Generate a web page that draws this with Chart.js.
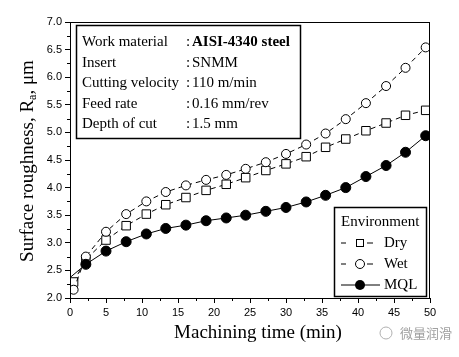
<!DOCTYPE html>
<html><head><meta charset="utf-8">
<script src="https://cdn.jsdelivr.net/npm/chart.js@4/dist/chart.umd.min.js"></script>
<style>html,body{margin:0;padding:0;background:#fff;}canvas{display:block;}</style>
</head><body>
<canvas id="c" width="459" height="357"></canvas>
<script>
const timeX = [0.5, 2.2, 5, 7.8, 10.6, 13.3, 16.1, 18.9, 21.7, 24.4, 27.2, 30, 32.8, 35.5, 38.3, 41.1, 43.9, 46.6, 49.4];
const dryY = [2.29, 2.70, 3.05, 3.31, 3.52, 3.69, 3.82, 3.95, 4.06, 4.18, 4.31, 4.43, 4.56, 4.73, 4.88, 5.03, 5.17, 5.31, 5.40];
const wetY = [2.15, 2.75, 3.20, 3.52, 3.75, 3.92, 4.04, 4.14, 4.23, 4.34, 4.46, 4.61, 4.78, 4.98, 5.24, 5.53, 5.84, 6.17, 6.54];
const mqlX = [0, 2.2, 5, 7.8, 10.6, 13.3, 16.1, 18.9, 21.7, 24.4, 27.2, 30, 32.8, 35.5, 38.3, 41.1, 43.9, 46.6, 49.4];
const mqlY = [2.37, 2.61, 2.85, 3.02, 3.16, 3.26, 3.32, 3.40, 3.45, 3.50, 3.57, 3.64, 3.74, 3.86, 4.00, 4.20, 4.40, 4.64, 4.94];
const infoLabels = ["Work material", "Insert", "Cutting velocity", "Feed rate", "Depth of cut"];
const infoValues = ["AISI-4340 steel", "SNMM", "110 m/min", "0.16 mm/rev", "1.5 mm"];
const legendTitle = "Environment";
const seriesNames = ["Dry", "Wet", "MQL"];
const xTitle = "Machining time (min)";

const pts = (xs, ys) => xs.map((x, i) => ({x, y: ys[i]}));
const SERIF = '"Liberation Serif", "Times New Roman", serif';
const SANS = '"Liberation Sans", Arial, sans-serif';

const extras = {
  id: 'extras',
  afterDraw(chart) {
    const ctx = chart.ctx, a = chart.chartArea;
    const xs = chart.scales.x, ys = chart.scales.y;
    ctx.save();
    ctx.strokeStyle = '#000'; ctx.lineWidth = 1;
    ctx.strokeRect(a.left + 0.5, a.top + 0.5, a.right - a.left - 1, a.bottom - a.top);
    ctx.beginPath();
    for (let v = 2.25; v < 7; v += 0.5) {
      const p = Math.round(ys.getPixelForValue(v)) + 0.5;
      ctx.moveTo(a.left, p); ctx.lineTo(a.left - 3, p);
    }
    for (let v = 2.5; v < 50; v += 5) {
      const p = Math.round(xs.getPixelForValue(v)) + 0.5;
      ctx.moveTo(p, a.bottom); ctx.lineTo(p, a.bottom + 3);
    }
    ctx.stroke();
    // info box
    ctx.lineWidth = 1.5;
    ctx.strokeRect(76.5, 25.5, 224, 113);
    ctx.fillStyle = '#000';
    ctx.textBaseline = 'middle';
    infoLabels.forEach((t, i) => {
      const y = 42 + i * 20.6;
      ctx.font = '15px ' + SERIF;
      ctx.textAlign = 'left';
      ctx.fillText(t, 82, y);
      ctx.fillText(':', 186, y);
      ctx.font = (i === 0 ? 'bold ' : '') + '15px ' + SERIF;
      ctx.fillText(infoValues[i], 192, y);
    });
    // legend box
    ctx.lineWidth = 1.5;
    ctx.strokeRect(334.5, 207.5, 92, 89);
    ctx.font = '15px ' + SERIF;
    ctx.fillText(legendTitle, 341, 222);
    const rows = [243, 264, 285];
    ctx.lineWidth = 1;
    ctx.beginPath();
    ctx.moveTo(341, rows[0]); ctx.lineTo(346, rows[0]);
    ctx.moveTo(367, rows[0]); ctx.lineTo(373, rows[0]);
    ctx.moveTo(341, rows[1]); ctx.lineTo(346, rows[1]);
    ctx.moveTo(367, rows[1]); ctx.lineTo(373, rows[1]);
    ctx.moveTo(341, rows[2]); ctx.lineTo(380, rows[2]);
    ctx.stroke();
    ctx.fillStyle = '#fff';
    ctx.fillRect(356, rows[0] - 4, 8, 8);
    ctx.strokeRect(356.5, rows[0] - 3.5, 7, 7);
    ctx.beginPath(); ctx.arc(360, rows[1], 4.5, 0, Math.PI * 2); ctx.fill(); ctx.stroke();
    ctx.fillStyle = '#000';
    ctx.beginPath(); ctx.arc(360, rows[2], 5, 0, Math.PI * 2); ctx.fill();
    ctx.font = '15px ' + SERIF;
    seriesNames.forEach((n, i) => ctx.fillText(n, 384, rows[i]));
    // x title
    ctx.font = '19px ' + SERIF;
    ctx.textAlign = 'center';
    ctx.fillText(xTitle, 258, 333);
    // y title with subscript
    ctx.translate(28, 161);
    ctx.rotate(-Math.PI / 2);
    const p1 = 'Surface roughness, R', sub = 'a', p2 = ', \u03bcm';
    ctx.font = '19px ' + SERIF;
    const w1 = ctx.measureText(p1).width, w3 = ctx.measureText(p2).width;
    ctx.font = '12px ' + SERIF;
    const w2 = ctx.measureText(sub).width;
    let x0 = -(w1 + w2 + w3) / 2;
    ctx.textAlign = 'left';
    ctx.font = '19px ' + SERIF;
    ctx.fillText(p1, x0, 0);
    ctx.font = '12px ' + SERIF;
    ctx.fillText(sub, x0 + w1, 5);
    ctx.font = '19px ' + SERIF;
    ctx.fillText(p2, x0 + w1 + w2, 0);
    ctx.setTransform(1, 0, 0, 1, 0, 0);
    // watermark
    ctx.fillStyle = '#a0a0a0';
    ctx.font = '13px "Noto Sans CJK SC", sans-serif';
    ctx.textAlign = 'left';
    ctx.fillText('微量润滑', 400, 333);
    ctx.strokeStyle = '#b0b0b0';
    ctx.beginPath(); ctx.arc(386, 333, 6, 0, Math.PI * 2); ctx.stroke();
    ctx.restore();
  }
};

new Chart(document.getElementById('c'), {
  type: 'line',
  data: {
    datasets: [
      { label: 'MQL', data: pts(mqlX, mqlY), borderColor: '#000', borderWidth: 1,
        pointStyle: 'circle', pointRadius: c => (c.dataIndex === 0 ? 0 : 5),
        pointBackgroundColor: '#000', pointBorderColor: '#000', pointBorderWidth: 1 },
      { label: 'Wet', data: pts(timeX, wetY), borderColor: '#000', borderWidth: 1, borderDash: [5, 4],
        pointStyle: 'circle', pointRadius: 4.5, pointBackgroundColor: '#fff', pointBorderColor: '#000', pointBorderWidth: 1 },
      { label: 'Dry', data: pts(timeX, dryY), borderColor: '#000', borderWidth: 1, borderDash: [5, 4],
        pointStyle: 'rect', pointRadius: 6, pointBackgroundColor: '#fff', pointBorderColor: '#000', pointBorderWidth: 1 }
    ]
  },
  options: {
    responsive: false, animation: false,
    layout: { padding: { left: 0, right: 29, top: 22, bottom: 0 } },
    plugins: { legend: { display: false }, tooltip: { enabled: false } },
    scales: {
      x: { type: 'linear', min: 0, max: 50,
        afterFit: s => { s.height = 59; },
        border: { display: true, color: '#000', width: 1 },
        grid: { drawOnChartArea: false, drawTicks: true, tickLength: 5, color: '#000' },
        ticks: { stepSize: 5, color: '#000', font: { family: SANS, size: 11 }, padding: 3, maxRotation: 0 } },
      y: { type: 'linear', min: 2, max: 7,
        afterFit: s => { s.width = 70; },
        border: { display: true, color: '#000', width: 1 },
        grid: { drawOnChartArea: false, drawTicks: true, tickLength: 5, color: '#000' },
        ticks: { stepSize: 0.5, color: '#000', font: { family: SANS, size: 11 }, padding: 3,
          callback: v => v.toFixed(1) } }
    }
  },
  plugins: [extras]
});
</script>
</body></html>
